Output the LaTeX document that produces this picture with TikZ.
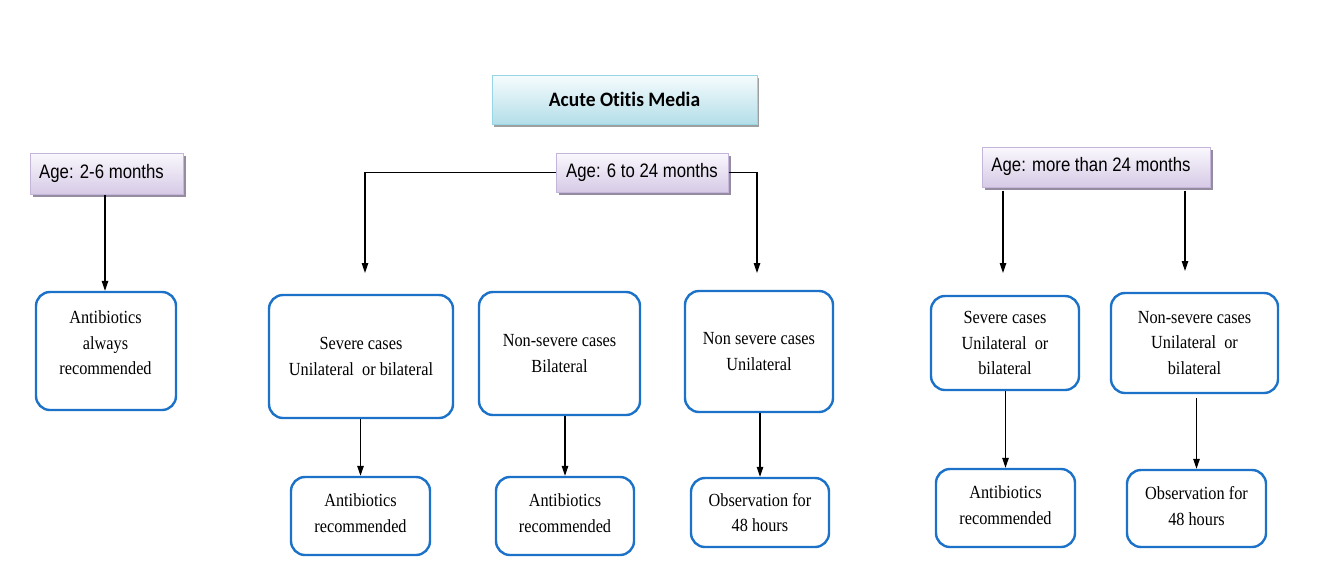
\documentclass[tikz,border=0pt]{standalone}
\usepackage{fontspec}
\setmainfont{Liberation Serif}[FakeStretch=0.88]
\newfontfamily\agefont{Liberation Sans}[FakeStretch=0.86]
\newfontfamily\titlefont{Carlito}[FakeStretch=0.95, Ligatures=NoCommon]
\usetikzlibrary{arrows.meta,shadows}
\definecolor{boxblue}{RGB}{28,114,200}
\definecolor{lavtop}{RGB}{250,248,253}
\definecolor{lavbot}{RGB}{214,202,230}
\definecolor{lavline}{RGB}{196,182,218}
\definecolor{lavshadow}{RGB}{150,140,160}
\definecolor{cyantop}{RGB}{246,252,253}
\definecolor{cyanbot}{RGB}{180,222,233}
\definecolor{cyanline}{RGB}{150,214,230}
\tikzset{
  titlebox/.style={draw=cyanline, line width=1pt, top color=cyantop, bottom color=cyanbot,
    drop shadow={shadow xshift=2pt, shadow yshift=-3pt, fill=gray!75, opacity=1},
    font=\titlefont\bfseries\fontsize{20.5}{24}\selectfont, inner sep=0pt},
  agebox/.style={draw=lavline, line width=1pt, top color=lavtop, bottom color=lavbot,
    drop shadow={shadow xshift=2.5pt, shadow yshift=-3pt, fill=lavshadow, opacity=1},
    font=\agefont\fontsize{19.5}{23}\selectfont, inner sep=0pt},
  agetext/.style={font=\agefont\fontsize{19.5}{23}\selectfont, inner sep=0pt},
  casebox/.style={draw=boxblue, line width=2.4pt, rounded corners=14pt, fill=white,
    align=center, font=\fontsize{18.5}{25.5}\selectfont, inner sep=0pt},
  casetext/.style={align=center, font=\fontsize{18.5}{25.5}\selectfont, inner sep=0pt},
  arr/.style={line width=1.2pt, -{Triangle[length=10pt,width=6.5pt]}}
}
\begin{document}
\begin{tikzpicture}[x=1pt,y=-1pt]
\useasboundingbox[fill=white] (0,0) rectangle (1317,587);

% title
\node[titlebox, minimum width=265pt, minimum height=49pt] (t) at (624.5,99.5) {Acute Otitis Media};

% age boxes
\node[agebox, minimum width=153pt, minimum height=41pt] (a1) at (106.5,173.5) {};
\node[agetext] (a1t) at (101.5,173) {Age: 2-6 months};
\node[agebox, minimum width=172pt, minimum height=39pt] (a2) at (642,172.5) {Age: 6 to 24 months};
\node[agebox, minimum width=228pt, minimum height=40pt] (a3) at (1096,167) {};
\node[agetext] (a3t) at (1091,166.5) {Age: more than 24 months};

% case boxes
\node[casebox, minimum width=140pt, minimum height=118pt] (b1) at (106,351) {};
\node[casetext] (b1t) at (105.5,343) {Antibiotics\\always\\recommended};
\node[casebox, minimum width=184pt, minimum height=123pt] (b2) at (361,356.5) {Severe cases\\Unilateral\ \ or bilateral};
\node[casebox, minimum width=161pt, minimum height=123pt] (b3) at (559.5,353.5) {Non-severe cases\\Bilateral};
\node[casebox, minimum width=148pt, minimum height=121pt] (b4) at (759,351.5) {Non severe cases\\Unilateral};
\node[casebox, minimum width=148pt, minimum height=94pt] (b5) at (1005,343) {Severe cases\\Unilateral\ \ or\\bilateral};
\node[casebox, minimum width=167pt, minimum height=100pt] (b6) at (1194.5,343) {Non-severe cases\\Unilateral\ \ or\\bilateral};

% outcome boxes
\node[casebox, minimum width=139pt, minimum height=78pt] (c2) at (360.5,516) {};
\node[casetext] (c2t) at (360.5,513) {Antibiotics\\recommended};
\node[casebox, minimum width=138pt, minimum height=78pt] (c3) at (565,516) {};
\node[casetext] (c3t) at (565,513) {Antibiotics\\recommended};
\node[casebox, minimum width=138pt, minimum height=69pt] (c4) at (760,512.5) {Observation for\\48 hours};
\node[casebox, minimum width=139pt, minimum height=78pt] (c5) at (1005.5,508) {};
\node[casetext] (c5t) at (1005.5,505) {Antibiotics\\recommended};
\node[casebox, minimum width=139pt, minimum height=77pt] (c6) at (1196.5,508.5) {};
\node[casetext] (c6t) at (1196.5,506) {Observation for\\48 hours};

% free arrow ends
\coordinate (l1) at (365,273);
\coordinate (r1) at (757,273);
\coordinate (m1) at (1003,273);
\coordinate (m2) at (1185,271);

% connectors
\draw[arr] (a1.south -| 105,0) -- (b1.north -| 105,0);
\draw[arr] (a2.west) -| (l1);
\draw[arr] (a2.east) -| (r1);
\draw[arr] (a3.south -| m1) ++(0,3) -- (m1);
\draw[arr] (a3.south -| m2) ++(0,3) -- (m2);

\draw[arr] (b2.south -| c2.north) -- (c2.north);
\draw[arr] (b3.south -| c3.north) -- (c3.north);
\draw[arr] (b4.south -| c4.north) -- (c4.north);
\draw[arr] (b5.south -| c5.north) -- (c5.north);
\draw[arr] (b6.south -| c6.north) ++(0,4) -- (c6.north);
\end{tikzpicture}
\end{document}
